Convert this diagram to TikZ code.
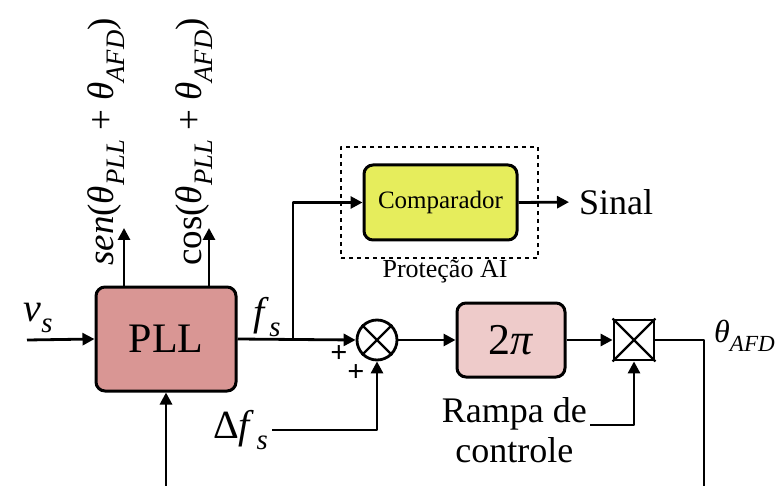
\documentclass[tikz,border=0pt]{standalone}
\usepackage{fontspec}
\setmainfont{Liberation Serif}
\usepackage{xcolor}
\usetikzlibrary{arrows.meta,shapes,positioning,calc}
\definecolor{pllred}{RGB}{217,150,148}
\definecolor{rampred}{RGB}{238,203,202}
\definecolor{compyel}{RGB}{230,237,92}
\newcommand{\isub}[2]{\textit{#1}\raisebox{-0.28em}{\scalebox{0.72}{\textit{#2}}}}

\begin{document}
\begin{tikzpicture}[x=1pt, y=-1pt, >={Triangle[length=12pt,width=12pt]}, line join=round,
  blk/.style={draw, line width=3pt, rounded corners=9pt, inner sep=0pt},
  sig/.style={line width=2.8pt},
  lbl/.style={inner sep=0pt, font=\fontsize{40}{46}\selectfont}]
\useasboundingbox (0,0) rectangle (781,486);
\node[blk, fill=pllred, minimum width=140pt, minimum height=104pt, font=\fontsize{42}{48}\selectfont] (pll) at (166,339) {PLL};
\node[draw, dashed, line width=2.2pt, dash pattern=on 4pt off 4pt, minimum width=197pt, minimum height=111pt] (prot) at (439.5,202.5) {};
\node[blk, fill=compyel, minimum width=153pt, minimum height=75pt, font=\fontsize{25}{30}\selectfont] (comp) at (440.5,202.5) {Comparador};
\node[font=\fontsize{26}{30}\selectfont, inner sep=0pt] (protlbl) at (445,272) {Proteção AI};
\node[draw, circle, line width=2.8pt, minimum size=40pt, inner sep=0pt] (sum) at (377,340) {};
\draw[line width=2.4pt] (sum.north west) -- (sum.south east) (sum.north east) -- (sum.south west);
\node[blk, fill=rampred, minimum width=108pt, minimum height=74pt, font=\fontsize{44}{50}\selectfont] (twopi) at (511,340) {2\textit{π}};
\node[draw, line width=2.8pt, minimum size=40pt, inner sep=0pt] (mult) at (634,340) {};
\draw[line width=2.2pt] (mult.north west) -- (mult.south east) (mult.north east) -- (mult.south west);

\node[lbl] (vs) at (38,318) {\isub{v}{s}};
\node[lbl] (fs) at (267,317) {\isub{f}{s}};
\node[lbl, anchor=east] (dfs) at (268,430) {Δ\isub{f\,}{s}};
\node[lbl, font=\fontsize{36}{42}\selectfont, anchor=west] (sinal) at (579,202) {Sinal};
\node[lbl, font=\fontsize{32}{38}\selectfont, anchor=west] (theta) at (714,336) {\isub{θ}{AFD}};
\node[lbl, font=\fontsize{36}{40}\selectfont, align=center, anchor=east] (rampa) at (587,430) {Rampa de\\controle};
\node[lbl, font=\fontsize{37}{42}\selectfont, rotate=90, anchor=west] (sen) at (106,266) {\textit{sen}(\isub{θ}{PLL} + \isub{θ}{AFD})};
\node[lbl, font=\fontsize{37}{42}\selectfont, rotate=90, anchor=west] (cos) at (194,266) {cos(\isub{θ}{PLL} + \isub{θ}{AFD})};
\node[font=\bfseries\fontsize{30}{34}\selectfont, inner sep=0pt] (p1) at (339,354) {+};
\node[font=\bfseries\fontsize{30}{34}\selectfont, inner sep=0pt] (p2) at (356,373) {+};

\coordinate (vin) at (27,340);
\coordinate (jn) at (293,340);
\coordinate (bot) at (166,486);
\coordinate (out) at (704,486);
\coordinate (senend) at (124,228);
\coordinate (cosend) at (209,228);
\coordinate (dfsst) at (272,430);
\coordinate (rampst) at (590,425);

\draw[sig, ->] (vin) -- (pll.west);
\draw[sig, ->] (pll.north -| senend) -- (senend);
\draw[sig, ->] (pll.north -| cosend) -- (cosend);
\draw[sig, ->] (bot) -- (pll.south);
\draw[sig, ->] (pll.east) -- (sum.west);
\draw[sig, ->] (jn) |- (comp.west);
\draw[sig, ->, shorten >=10pt] (comp.east) -- (sinal.west);
\draw[sig, ->] (dfsst) -| (sum.south);
\draw[sig, ->] (sum.east) -- (twopi.west);
\draw[sig, ->] (twopi.east) -- (mult.west);
\draw[sig, ->] (rampst) -| (mult.south);
\draw[sig] (mult.east) -| (out);
\end{tikzpicture}
\end{document}
